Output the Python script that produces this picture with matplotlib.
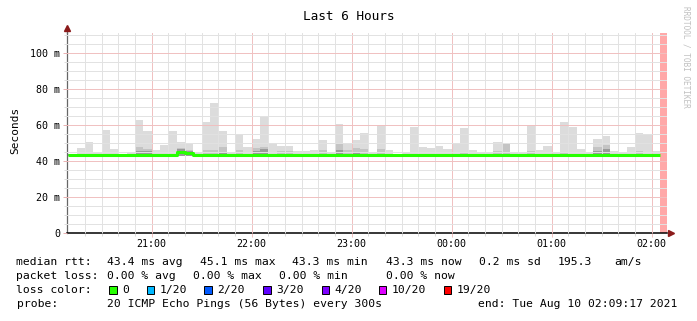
import numpy as np
import matplotlib
matplotlib.use("Agg")
import matplotlib.pyplot as plt

# time axis in minutes after 20:00, 5 minute steps
t_start = 9 + 17 / 60.0          # 20:09:17
t_end = t_start + 360            # 02:09:17
step_start = np.arange(10, 365, 5)   # 20:10 ... 02:00
hour_ticks = [60, 120, 180, 240, 300, 360]
hour_labels = ["21:00", "22:00", "23:00", "00:00", "01:00", "02:00"]

# smoke (ms) per step: top of light band, top of medium band, top of dark band, bottom
smoke_hi = [44.0, 47, 50.4, 44.5, 57.2, 46.5, 44, 45, 63.1, 56.5,
            46.1, 48.7, 56.5, 50.5, 49.4, 45, 61.7, 72.4, 56.7, 45,
            55, 47.6, 52.2, 64.6, 49.8, 48.3, 48.3, 45.6, 45.4, 46.1,
            51.7, 45, 60.6, 50.2, 51.7, 55.6, 45, 60, 46.1, 44,
            44.5, 59, 48, 47.4, 48.3, 46.5, 50, 58.5, 46.1, 45,
            44.5, 50.5, 50, 45, 44.5, 60.2, 46.1, 48.3, 45, 61.7,
            59, 46.7, 45, 52.2, 53.9, 45.7, 45, 47.8, 55.6, 55.2,
            45.4]
smoke_mid = [44.2, 44.2, 44.2, 44.2, 44.2, 44.2, 44.2, 44.2, 47.8, 46.5,
             44.2, 44.2, 44.2, 47.5, 46.0, 44.2, 46.1, 45.9, 47.9, 44.2,
             46.1, 44.2, 47.0, 47.9, 44.2, 45.6, 45.6, 44.2, 44.2, 44.2,
             46.1, 44.2, 49.3, 46.1, 47.0, 46.5, 44.2, 46.5, 44.2, 44.2,
             44.2, 44.2, 44.2, 44.2, 44.2, 44.2, 44.2, 45.2, 44.2, 44.2,
             44.2, 45.6, 50.0, 44.2, 44.2, 45.6, 44.2, 44.2, 44.2, 45.2,
             44.2, 44.2, 44.2, 47.9, 48.9, 44.2, 44.2, 44.2, 45.6, 44.2,
             44.2]
smoke_dark = [44.0, 44.0, 44.0, 44.0, 44.0, 44.0, 44.0, 44.0, 45.5, 45.6,
              44.0, 44.0, 44.0, 46.5, 45.4, 44.0, 44.0, 44.0, 45.2, 44.0,
              44.0, 44.0, 45.6, 46.5, 44.0, 44.0, 44.0, 44.0, 44.0, 44.0,
              44.0, 44.0, 46.0, 44.0, 45.2, 44.0, 44.0, 44.0, 44.0, 44.0,
              44.0, 44.0, 44.0, 44.0, 44.0, 44.0, 44.0, 44.0, 44.0, 44.0,
              44.0, 44.0, 44.0, 44.0, 44.0, 44.0, 44.0, 44.0, 44.0, 44.0,
              44.0, 44.0, 44.0, 45.6, 46.5, 44.0, 44.0, 44.0, 44.0, 44.0,
              44.0]
smoke_lo = [43.0] * 39 + [42.4, 42.5] + [43.0] * 15 + [42.4] + [43.0] * 8 + [42.6, 42.6] + [43.0] * 4
median = [43.5] * 13 + [45.0, 44.4] + [43.5] * 56

y_ticks = [0, 20, 40, 60, 80, 100]
y_labels = ["0", "20 m", "40 m", "60 m", "80 m", "100 m"]

loss_labels = ["0", "1/20", "2/20", "3/20", "4/20", "10/20", "19/20"]
loss_colors = ["#26ff00", "#00b8ff", "#0059ff", "#5e00ff", "#7e00ff", "#dd00ff", "#ff0000"]

mono = "DejaVu Sans Mono"
plt.rcParams["font.family"] = mono

fig = plt.figure(figsize=(6.97, 3.21), dpi=100)
W, H = 697.0, 321.0
ax = fig.add_axes([67 / W, (H - 233) / H, 600 / W, 200 / H])

hi = np.array(smoke_hi)
mid = np.array(smoke_mid)
dark = np.array(smoke_dark)
lo = np.array(smoke_lo)
ax.bar(step_start, hi - lo, bottom=lo, width=5, align="edge", color="#dcdcdc", linewidth=0, zorder=1)
ax.bar(step_start, mid - lo, bottom=lo, width=5, align="edge", color="#c4c4c4", linewidth=0, zorder=1.1)
ax.bar(step_start, dark - lo, bottom=lo, width=5, align="edge", color="#9a9a9a", linewidth=0, zorder=1.2)

# unknown / pending step
ax.axvspan(365, 370, color="#ffa8a8", linewidth=0, zorder=1.3)

# median line
xs = list(step_start) + [365]
ys = median + [median[-1]]
ax.step(xs, ys, where="post", color="#26ff00", lw=2.2, zorder=4, solid_capstyle="butt")

ax.set_xlim(t_start, t_end)
ax.set_ylim(0, 111.2)
ax.set_xticks(hour_ticks)
ax.set_xticklabels(hour_labels)
ax.set_xticks(np.arange(20, 370, 10), minor=True)
ax.set_yticks(y_ticks)
ax.set_yticklabels(y_labels)
ax.set_yticks(np.arange(0, 111, 5), minor=True)

ax.grid(which="minor", color="#e2e2e2", lw=0.7, zorder=2)
ax.grid(which="major", color="#f0c0c0", lw=0.7, zorder=2.1)
ax.set_axisbelow(False)
ax.tick_params(axis="x", which="major", length=3, width=0.7, color="#f0c0c0", labelsize=7.2, pad=1.5)
ax.tick_params(axis="x", which="minor", length=2, width=0.7, color="#d8d8d8")
ax.tick_params(axis="y", which="major", length=3, width=0.7, color="#e8b0b0", labelsize=7.2, pad=2)
ax.tick_params(axis="y", which="minor", length=2, width=0.7, color="#dcdcdc")
for s in ["top", "right"]:
    ax.spines[s].set_visible(False)
ax.spines["left"].set_color("#666666")
ax.spines["left"].set_linewidth(0.9)
ax.spines["bottom"].set_color("black")
ax.spines["bottom"].set_linewidth(1.1)

# axis arrows
ax.plot([0, 0], [1, 1.02], color="#666666", lw=0.9, transform=ax.transAxes, clip_on=False)
ax.plot([0], [1.025], marker="^", ms=4, color="#8b1a1a", transform=ax.transAxes, clip_on=False)
ax.plot([1.006], [0], marker=">", ms=4, color="#8b1a1a", transform=ax.transAxes, clip_on=False)

fig.text(349 / W, 1 - 16 / H, "Last 6 Hours", ha="center", va="center", fontsize=9.2)
fig.text(15 / W, 1 - 130 / H, "Seconds", ha="center", va="center", rotation=90, fontsize=8)
fig.text(686 / W, 1 - 6 / H, "RRDTOOL / TOBI OETIKER", ha="center", va="top", rotation=270,
         fontsize=5.6, color="#c0c0c0")

fs = 8.2
# legend line 1
y1 = 1 - 262 / H
for x, s in [(16.5, "median rtt:"), (107, "43.4 ms avg"), (200, "45.1 ms max"), (292.5, "43.3 ms min"),
             (385.5, "43.3 ms now"), (479, "0.2 ms sd"), (558, "195.3"), (614, "am/s")]:
    fig.text(x / W, y1, s, fontsize=fs, va="center")
y2 = 1 - 276 / H
for x, s in [(16.5, "packet loss:"), (107, "0.00 % avg"), (193, "0.00 % max"), (279, "0.00 % min"),
             (385.5, "0.00 % now")]:
    fig.text(x / W, y2, s, fontsize=fs, va="center")
y3 = 1 - 290 / H
fig.text(16.5 / W, y3, "loss color:", fontsize=fs, va="center")
box_x = [109.3, 146.7, 204.3, 263.3, 321.7, 379, 444]
for bx, lab, col in zip(box_x, loss_labels, loss_colors):
    fig.patches.append(plt.Rectangle((bx / W, (H - 293.5) / H), 7.5 / W, 7.5 / H, transform=fig.transFigure,
                                     facecolor=col, edgecolor="black", lw=0.7))
    fig.text((bx + 12.5) / W, y3, lab, fontsize=fs, va="center")
y4 = 1 - 304 / H
fig.text(16.5 / W, y4, "probe:", fontsize=fs, va="center")
fig.text(107 / W, y4, "20 ICMP Echo Pings (56 Bytes) every 300s", fontsize=fs, va="center")
fig.text(478 / W, y4, "end: Tue Aug 10 02:09:17 2021", fontsize=fs, va="center")

fig.savefig("out.png", dpi=100, facecolor="white")
